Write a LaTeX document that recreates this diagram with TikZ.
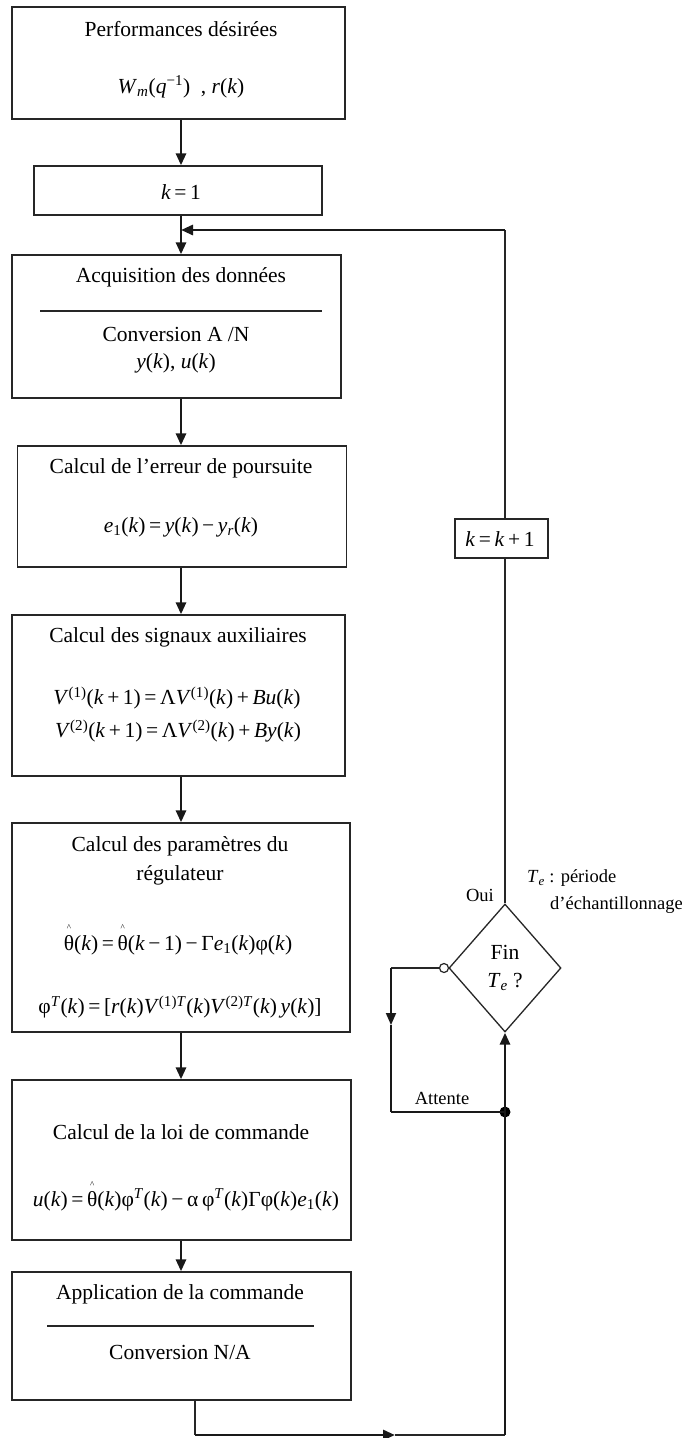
\documentclass[tikz,border=0pt]{standalone}
\usepackage{fontspec}
\setmainfont{Liberation Serif}
\usetikzlibrary{arrows.meta,shapes.geometric,calc}
\newcommand\I[1]{\textit{#1}}
\newcommand\hth{\ooalign{θ\cr\hidewidth\raisebox{0.9em}{\fontsize{9}{9}\selectfont\^{}}\hidewidth\cr}}
\begin{document}
\begin{tikzpicture}[x=1pt,y=-1pt,
  box/.style={draw=black!85,line width=1.3pt,rectangle,inner sep=0pt},
  txt/.style={font=\fontsize{21.5}{25}\selectfont,inner sep=0pt},
  lbl/.style={font=\fontsize{18.5}{22}\selectfont,inner sep=0pt},
  tip/.style={-{Triangle[length=12pt,width=10pt]}},
  arr/.style={line width=2.8pt,draw=black!90,tip},
  thk/.style={line width=2.8pt,draw=black!90},
  thn/.style={line width=1.3pt,draw=black!85}]
\useasboundingbox (0,0) rectangle (681,1438);
\fill[white] (0,0) rectangle (681,1438);
% boxes
\node[box,minimum width=333pt,minimum height=112pt] (b1) at (178.5,63) {};
\node[box,minimum width=288pt,minimum height=49pt] (b2) at (178,190.5) {};
\node[box,minimum width=329pt,minimum height=143pt] (b3) at (176.5,326.5) {};
\node[box,minimum width=329.5pt,minimum height=121pt] (b4) at (182,506.5) {};
\node[box,minimum width=333pt,minimum height=161pt] (b5) at (178.5,695.5) {};
\node[box,minimum width=338pt,minimum height=209pt] (b6) at (181,927.5) {};
\node[box,minimum width=339pt,minimum height=160pt] (b7) at (181.5,1160) {};
\node[box,minimum width=339pt,minimum height=128pt] (b8) at (181.5,1336) {};
\node[box,minimum width=93pt,minimum height=39pt] (kk) at (501.5,538.5) {};
\node[draw=black!85,line width=1.3pt,diamond,minimum width=112pt,minimum height=128pt,inner sep=0pt,align=center,txt] (dm) at (505,968) {Fin\\[3pt]\I{T}\textsubscript{\I{e}} ?};
\node[circle,draw=black!85,line width=1.2pt,fill=white,minimum size=9pt,inner sep=0pt] (oc) at (444,968) {};
\node[circle,fill=black,minimum size=11pt,inner sep=0pt] (dot) at (505,1112) {};
% separators
\draw[thn] (40,311) -- (322,311);
\draw[thn] (47,1326) -- (314,1326);
% texts
\node[txt] (t1a) at (181,29) {Performances désirées};
\node[txt] (t1b) at (181,87) {\I{W}\textsubscript{\I{m}}(\I{q}\textsuperscript{−1})\ \ , \I{r}(\I{k})};
\node[txt] (t2) at (181,192) {\I{k}\,=\,1};
\node[txt] (t3a) at (181,277) {Acquisition des données};
\node[txt] (t3b) at (176,334) {Conversion A /N};
\node[txt] (t3c) at (176,363) {\I{y}(\I{k}), \I{u}(\I{k})};
\node[txt] (t4a) at (181,468) {Calcul de l’erreur de poursuite};
\node[txt] (t4b) at (181,527) {\I{e}\textsubscript{1}(\I{k})\,=\,\I{y}(\I{k})\,−\,\I{y}\textsubscript{\I{r}}(\I{k})};
\node[txt] (t5a) at (178,637) {Calcul des signaux auxiliaires};
\node[txt] (t5b) at (177,698) {\I{V}\textsuperscript{(1)}(\I{k}\,+\,1)\,=\,Λ\I{V}\textsuperscript{(1)}(\I{k})\,+\,\I{Bu}(\I{k})};
\node[txt] (t5c) at (178,731) {\I{V}\textsuperscript{(2)}(\I{k}\,+\,1)\,=\,Λ\I{V}\textsuperscript{(2)}(\I{k})\,+\,\I{By}(\I{k})};
\node[txt] (t6a) at (180,846) {Calcul des paramètres du};
\node[txt] (t6b) at (180,875) {régulateur};
\node[txt] (t6c) at (178,945) {\hth(\I{k})\,=\,\hth(\I{k}\,−\,1)\,−\,Γ\I{e}\textsubscript{1}(\I{k})φ(\I{k})};
\node[txt] (t6d) at (180,1007) {φ\textsuperscript{\I{T}}(\I{k})\,=\,[\I{r}(\I{k})\I{V}\textsuperscript{(1)\I{T}}(\I{k})\I{V}\textsuperscript{(2)\I{T}}(\I{k})\,\I{y}(\I{k})]};
\node[txt] (t7a) at (181,1132) {Calcul de la loi de commande};
\node[txt] (t7b) at (186,1200) {\I{u}(\I{k})\,=\,\hth(\I{k})φ\textsuperscript{\I{T}}(\I{k})\,−\,α\,φ\textsuperscript{\I{T}}(\I{k})Γφ(\I{k})\I{e}\textsubscript{1}(\I{k})};
\node[txt] (t8a) at (180,1294) {Application de la commande};
\node[txt] (t8b) at (180,1352) {Conversion N/A};
\node[txt] (tkk) at (500,539) {\I{k}\,=\,\I{k}\,+\,1};
% side labels
\node[lbl,anchor=east] (oui) at (494,895) {Oui};
\node[lbl,anchor=west] (te1) at (527,878) {\I{T}\textsubscript{\I{e}} : période};
\node[lbl,anchor=west] (te2) at (550,905) {d’échantillonnage};
\node[lbl] (att) at (442,1098) {Attente};
% coordinates
\coordinate (sp) at (181,0);
\coordinate (fbc) at (505,230);
\coordinate (fbe) at (181,230);
\coordinate (bl) at (195,1435);
\coordinate (bm) at (395,1435);
\coordinate (br) at (505,1435);
\coordinate (lc) at (391,968);
\coordinate (lm) at (391,1025);
\coordinate (ll) at (391,1112);
% main spine
\draw[arr] (b1.south -| sp) -- (b2.north -| sp);
\draw[arr] (b2.south -| sp) -- (b3.north -| sp);
\draw[arr] (b3.south -| sp) -- (b4.north -| sp);
\draw[arr] (b4.south -| sp) -- (b5.north -| sp);
\draw[arr] (b5.south -| sp) -- (b6.north -| sp);
\draw[arr] (b6.south -| sp) -- (b7.north -| sp);
\draw[arr] (b7.south -| sp) -- (b8.north -| sp);
% feedback
\draw[thn] (dm.north) -- (kk.south -| dm.north);
\draw[thn] (kk.north -| dm.north) -- (fbc);
\draw[arr] (fbc) -- (fbe);
% bottom return
\draw[thn] (b8.south -| bl) -- (bl);
\draw[arr] (bl) -- (bm);
\draw[thn] (bm) -- (br);
\draw[thk] (br) -- (dot.center);
\draw[arr] (dot.center) -- (dm.south);
% wait loop
\draw[thn] (oc.west) -- (lc);
\draw[line width=1.8pt,draw=black!90,tip] (lc) -- (lm);
\draw[line width=1.8pt,draw=black!90] (lm) -- (ll);
\draw[thk] (ll) -- (dot.center);
\end{tikzpicture}
\end{document}
